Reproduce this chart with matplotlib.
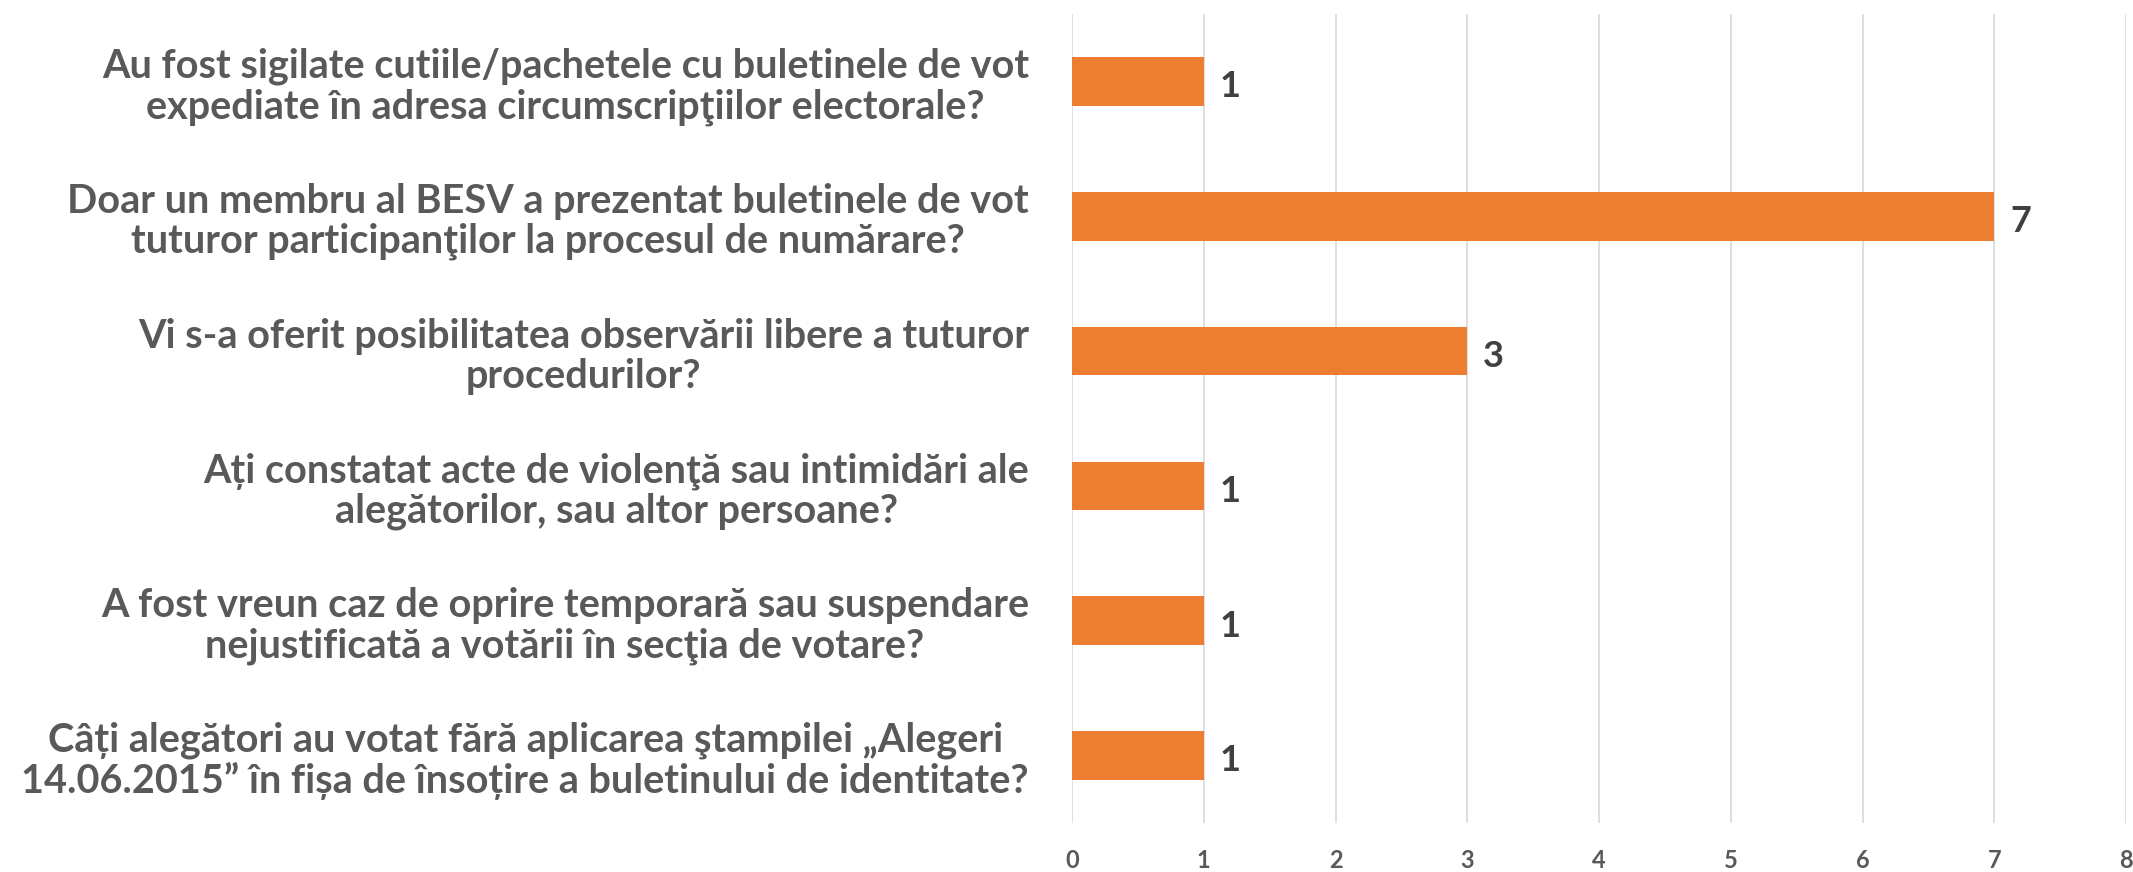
import numpy as np
import matplotlib.pyplot as plt

questions = [
    "Au fost sigilate cutiile/pachetele cu buletinele de vot\nexpediate în adresa circumscripţiilor electorale?",
    "Doar un membru al BESV a prezentat buletinele de vot\ntuturor participanţilor la procesul de numărare?",
    "Vi s-a oferit posibilitatea observării libere a tuturor\nprocedurilor?",
    "Ați constatat acte de violenţă sau intimidări ale\nalegătorilor, sau altor persoane?",
    "A fost vreun caz de oprire temporară sau suspendare\nnejustificată a votării în secţia de votare?",
    "Câți alegători au votat fără aplicarea ştampilei „Alegeri\n14.06.2015” în fișa de însoțire a buletinului de identitate?",
]
counts = [1, 7, 3, 1, 1, 1]
xticks = [0, 1, 2, 3, 4, 5, 6, 7, 8]

plt.rcParams['font.family'] = ['Lato', 'DejaVu Sans']

fig = plt.figure(figsize=(21.33, 8.72), dpi=100)
ax = fig.add_axes([1072/2133, 49/872, (2126-1072)/2133, (858-49)/872])

y = np.arange(len(questions))
bars = ax.barh(y, counts, height=0.36, color='#ED7D31', zorder=3)
ax.set_ylim(len(questions) - 0.5, -0.5)
ax.set_xlim(0, 8)
ax.set_xticks(xticks)
ax.set_xticklabels([str(t) for t in xticks], fontsize=17, fontweight='bold', color='#595959')
ax.set_yticks(y)
ax.set_yticklabels(questions, fontsize=28.5, fontweight='bold', color='#595959',
                   multialignment='center', linespacing=1.1)
ax.tick_params(axis='y', length=0, pad=31)
ax.tick_params(axis='x', length=0, pad=19)
ax.grid(axis='x', color='#D9D9D9', linewidth=1.2, zorder=0)
for s in ax.spines.values():
    s.set_visible(False)

for b, v in zip(bars, counts):
    ax.text(b.get_width() + 0.12, b.get_y() + b.get_height() / 2 + 0.04, str(v),
            va='center', ha='left', fontsize=26, fontweight='bold', color='#404040')

fig.savefig('out.png', dpi=100)
